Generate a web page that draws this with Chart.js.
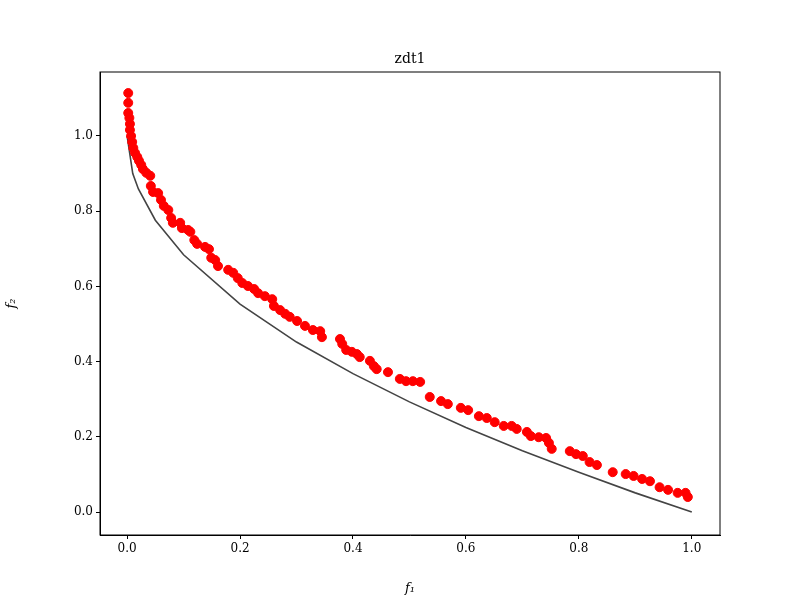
<!DOCTYPE html>
<html>
<head>
<meta charset="utf-8">
<script src="https://cdn.jsdelivr.net/npm/chart.js@4/dist/chart.umd.min.js"></script>
<style>
  body { margin: 0; background: #fff; }
  #wrap { width: 800px; height: 600px; }
</style>
</head>
<body>
<div id="wrap"><canvas id="chart" width="800" height="600"></canvas></div>
<script>
// true Pareto front
const frontF1 = [0, 0.01, 0.02, 0.05, 0.1, 0.2, 0.3, 0.4, 0.5, 0.6, 0.7, 0.8, 0.9, 1.0];
const frontF2 = [1.0, 0.9, 0.859, 0.776, 0.684, 0.553, 0.452, 0.368, 0.293, 0.225, 0.163, 0.106, 0.051, 0.0];

// obtained solutions
const solF1 = [0.002, 0.002, 0.002, 0.004, 0.005, 0.005, 0.007, 0.009, 0.011, 0.014, 0.018, 0.021, 0.025,
  0.028, 0.034, 0.041, 0.042, 0.046, 0.055, 0.06, 0.065, 0.073, 0.078, 0.081, 0.094, 0.097, 0.108, 0.112,
  0.119, 0.124, 0.138, 0.145, 0.149, 0.156, 0.161, 0.179, 0.188, 0.196, 0.204, 0.214, 0.225, 0.232, 0.244,
  0.257, 0.26, 0.271, 0.28, 0.288, 0.301, 0.315, 0.329, 0.342, 0.345, 0.377, 0.381, 0.388, 0.398, 0.407,
  0.412, 0.43, 0.437, 0.442, 0.462, 0.483, 0.494, 0.506, 0.519, 0.536, 0.556, 0.568, 0.591, 0.604, 0.623,
  0.637, 0.651, 0.667, 0.681, 0.69, 0.708, 0.715, 0.729, 0.742, 0.747, 0.752, 0.784, 0.795, 0.807, 0.819,
  0.832, 0.86, 0.883, 0.897, 0.912, 0.926, 0.943, 0.958, 0.975, 0.989, 0.993];
const solF2 = [1.114, 1.088, 1.061, 1.048, 1.032, 1.016, 1.0, 0.984, 0.968, 0.955, 0.944, 0.934, 0.923,
  0.912, 0.902, 0.894, 0.867, 0.851, 0.848, 0.83, 0.814, 0.803, 0.782, 0.769, 0.769, 0.755, 0.75, 0.745,
  0.723, 0.713, 0.705, 0.699, 0.676, 0.67, 0.654, 0.644, 0.636, 0.622, 0.609, 0.601, 0.593, 0.582, 0.574,
  0.566, 0.548, 0.537, 0.527, 0.519, 0.508, 0.495, 0.484, 0.481, 0.465, 0.46, 0.447, 0.431, 0.426, 0.42,
  0.412, 0.402, 0.388, 0.38, 0.372, 0.354, 0.348, 0.348, 0.346, 0.306, 0.295, 0.287, 0.277, 0.271, 0.255,
  0.25, 0.239, 0.229, 0.229, 0.221, 0.213, 0.202, 0.199, 0.197, 0.184, 0.168, 0.162, 0.154, 0.149, 0.133,
  0.125, 0.106, 0.101, 0.096, 0.088, 0.082, 0.066, 0.059, 0.051, 0.051, 0.04];

const xTicks = [0.0, 0.2, 0.4, 0.6, 0.8, 1.0];
const yTicks = [0.0, 0.2, 0.4, 0.6, 0.8, 1.0];

const font = { family: "DejaVu Serif", size: 12 };

const frame = {
  id: "frame",
  afterDraw(c) {
    const a = c.chartArea, g = c.ctx;
    g.save();
    g.strokeStyle = "#000";
    g.lineWidth = 1;
    g.strokeRect(a.left, a.top, a.right - a.left, a.bottom - a.top);
    g.fillStyle = "#000";
    g.font = "14px 'DejaVu Serif'";
    g.textAlign = "center";
    g.textBaseline = "bottom";
    g.fillText("zdt1", (a.left + a.right) / 2, a.top - 6);
    g.restore();
  }
};

new Chart(document.getElementById("chart"), {
  type: "scatter",
  data: {
    datasets: [
      {
        type: "line",
        data: frontF1.map((x, i) => ({ x, y: frontF2[i] })),
        borderColor: "#444444",
        borderWidth: 1.6,
        pointRadius: 0,
        fill: false,
        order: 2,
      },
      {
        data: solF1.map((x, i) => ({ x, y: solF2[i] })),
        backgroundColor: "#ff0000",
        borderColor: "#ff0000",
        pointRadius: 4.5,
        order: 1,
      },
    ],
  },
  options: {
    responsive: false,
    animation: false,
    layout: { padding: { top: 72, right: 80, left: 0, bottom: 0 } },
    plugins: { legend: { display: false }, tooltip: { enabled: false } },
    scales: {
      x: {
        type: "linear",
        min: -0.048,
        max: 1.05,
        afterBuildTicks: (s) => { s.ticks = xTicks.map((v) => ({ value: v })); },
        afterFit: (s) => { s.height = 65; },
        grid: { drawOnChartArea: false, tickLength: 4, color: "#000" },
        border: { color: "#000" },
        ticks: { font, color: "#000", callback: (v) => v.toFixed(1), maxRotation: 0 },
        title: { display: true, text: "f₁", font: { family: "DejaVu Serif", size: 13, style: "italic" }, color: "#000" },
      },
      y: {
        min: -0.061,
        max: 1.17,
        afterBuildTicks: (s) => { s.ticks = yTicks.map((v) => ({ value: v })); },
        afterFit: (s) => { s.width = 100; },
        grid: { drawOnChartArea: false, tickLength: 4, color: "#000" },
        border: { color: "#000" },
        ticks: { font, color: "#000", callback: (v) => v.toFixed(1) },
        title: { display: true, text: "f₂", font: { family: "DejaVu Serif", size: 13, style: "italic" }, color: "#000" },
      },
    },
  },
  plugins: [frame],
});
</script>
</body>
</html>
